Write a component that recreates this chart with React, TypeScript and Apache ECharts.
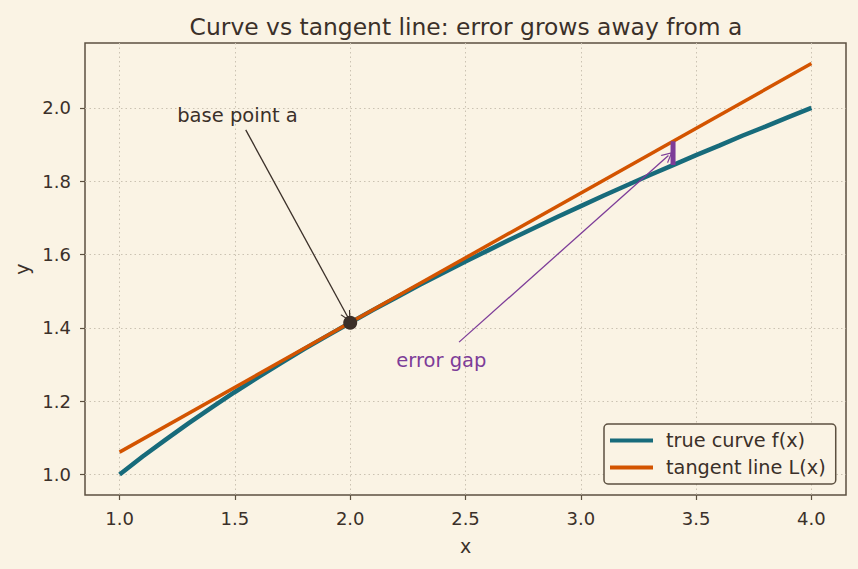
import React, { useEffect, useRef } from "react";
import * as echarts from "echarts";

const xs = [1.0, 1.1, 1.2, 1.3, 1.4, 1.5, 1.6, 1.7, 1.8, 1.9, 2.0, 2.1, 2.2, 2.3, 2.4, 2.5, 2.6, 2.7, 2.8, 2.9, 3.0, 3.1, 3.2, 3.3, 3.4, 3.5, 3.6, 3.7, 3.8, 3.9, 4.0];
const curveY = [1.0, 1.049, 1.095, 1.14, 1.183, 1.225, 1.265, 1.304, 1.342, 1.378, 1.414, 1.449, 1.483, 1.517, 1.549, 1.581, 1.612, 1.643, 1.673, 1.703, 1.732, 1.761, 1.789, 1.817, 1.844, 1.871, 1.897, 1.924, 1.949, 1.975, 2.0];
const tangentX = [1.0, 4.0];
const tangentY = [1.061, 2.121];
const basePoint = [2.0, 1.414];
const gapX = 3.4;
const gapY = [1.844, 1.909];
const xTicks = [1.0, 1.5, 2.0, 2.5, 3.0, 3.5, 4.0];
const yTicks = [1.0, 1.2, 1.4, 1.6, 1.8, 2.0];

const BG = "#faf3e4";
const TXT = "#3b3029";
const TEAL = "#176b7b";
const ORANGE = "#d35400";
const PURPLE = "#7d3c98";
const SPINE = "#5c5040";
const GRID = "#cbc2b2";
const FONT = "DejaVu Sans";
const OPEN_ARROW = "path://M5,0 L10,10 L8.8,10 L5,2.4 L1.2,10 L0,10 Z";

export default function App() {
  const ref = useRef<HTMLDivElement>(null);
  useEffect(() => {
    const chart = echarts.init(ref.current!, undefined, { renderer: "svg" });
    const axisCommon = {
      type: "value" as const,
      axisLine: { show: false },
      axisTick: { show: true, inside: false, length: 5, lineStyle: { color: SPINE, width: 1.2 } },
      splitLine: { show: true, lineStyle: { color: GRID, type: [1.5, 3], width: 1 } },
      nameTextStyle: { color: TXT, fontSize: 19, fontFamily: FONT },
    };
    chart.setOption({
      animation: false,
      backgroundColor: BG,
      textStyle: { fontFamily: FONT },
      title: {
        text: "Curve vs tangent line: error grows away from a",
        left: 461,
        top: 10,
        textAlign: "center",
        textStyle: { color: TXT, fontSize: 23.4, fontWeight: "normal", fontFamily: FONT },
      },
      grid: {
        left: 85, right: 12, top: 43, bottom: 74,
        show: true, borderColor: SPINE, borderWidth: 1.5, backgroundColor: BG,
      },
      legend: {
        data: ["true curve f(x)", "tangent line L(x)"],
        orient: "vertical",
        left: 604,
        top: 424,
        padding: [7, 10, 7, 6],
        itemGap: 8,
        itemWidth: 43,
        itemHeight: 4,
        icon: "rect",
        backgroundColor: BG,
        borderColor: SPINE,
        borderWidth: 1.5,
        borderRadius: 4,
        textStyle: { color: TXT, fontSize: 19.3, fontFamily: FONT, padding: [0, 0, 0, 8] },
      },
      xAxis: {
        ...axisCommon,
        min: 0.85,
        max: 4.15,
        name: "x",
        nameLocation: "middle",
        nameGap: 41,
        axisTick: { ...axisCommon.axisTick, customValues: xTicks },
        axisLabel: {
          customValues: xTicks,
          color: TXT, fontSize: 18, fontFamily: FONT, margin: 14,
          formatter: (v: number) => v.toFixed(1),
        },
      },
      yAxis: {
        ...axisCommon,
        min: 0.944,
        max: 2.177,
        name: "y",
        nameLocation: "middle",
        nameGap: 52,
        axisTick: { ...axisCommon.axisTick, customValues: yTicks },
        axisLabel: {
          customValues: yTicks,
          color: TXT, fontSize: 18, fontFamily: FONT, margin: 14,
          formatter: (v: number) => v.toFixed(1),
        },
      },
      series: [
        {
          name: "true curve f(x)",
          type: "line",
          data: xs.map((x, i) => [x, curveY[i]]),
          showSymbol: false,
          symbol: "none",
          lineStyle: { color: TEAL, width: 4.5 },
          itemStyle: { color: TEAL },
          z: 2,
        },
        {
          name: "tangent line L(x)",
          type: "line",
          data: tangentX.map((x, i) => [x, tangentY[i]]),
          showSymbol: false,
          symbol: "none",
          lineStyle: { color: ORANGE, width: 3.5 },
          itemStyle: { color: ORANGE },
          z: 3,
        },
        {
          name: "gap",
          type: "line",
          data: gapY.map((y) => [gapX, y]),
          showSymbol: false,
          symbol: "none",
          lineStyle: { color: PURPLE, width: 5 },
          z: 4,
          markLine: {
            silent: true,
            symbol: ["none", OPEN_ARROW],
            symbolSize: 11,
            itemStyle: { color: PURPLE },
            lineStyle: { color: PURPLE, width: 1.3, type: "solid" },
            label: { show: false },
            data: [[{ coord: [2.472, 1.361] }, { coord: [3.38, 1.87] }]],
          },
          markPoint: {
            silent: true,
            symbol: "circle",
            symbolSize: 0,
            label: {
              show: true, position: "right", distance: 0,
              color: PURPLE, fontSize: 19.5, fontFamily: FONT, formatter: "error gap",
            },
            data: [{ coord: [2.2, 1.31] }],
          },
        },
        {
          name: "base",
          type: "scatter",
          data: [basePoint],
          symbolSize: 14,
          itemStyle: { color: TXT, opacity: 1 },
          z: 5,
          markLine: {
            silent: true,
            symbol: ["none", OPEN_ARROW],
            symbolSize: 11,
            itemStyle: { color: TXT },
            lineStyle: { color: TXT, width: 1.3, type: "solid" },
            label: { show: false },
            data: [[{ coord: [1.547, 1.94] }, { coord: [1.99, 1.429] }]],
          },
          markPoint: {
            silent: true,
            symbol: "circle",
            symbolSize: 0,
            label: {
              show: true, position: "right", distance: 0,
              color: TXT, fontSize: 19.5, fontFamily: FONT, formatter: "base point a",
            },
            data: [{ coord: [1.25, 1.978] }],
          },
        },
      ],
    });
    return () => chart.dispose();
  }, []);
  return <div ref={ref} style={{ width: 858, height: 569, position: "fixed", left: 0, top: 0 }} />;
}
